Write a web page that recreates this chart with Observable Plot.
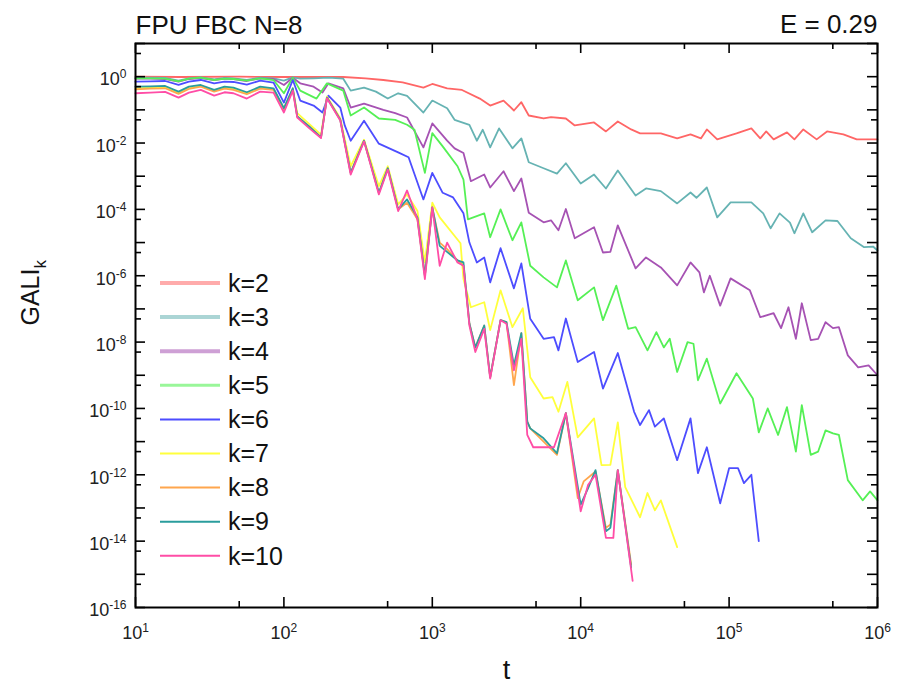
<!DOCTYPE html>
<html><head><meta charset="utf-8">
<script src="https://cdn.jsdelivr.net/npm/d3@7"></script>
<script src="https://cdn.jsdelivr.net/npm/@observablehq/plot@0.6"></script>
<style>
body{margin:0;background:#fff;}
svg{font-family:"Liberation Sans",Arial,Helvetica,sans-serif;}
</style>
</head><body><div id="chart"></div>
<script>
// Each series: [log10 t, log10 GALI_k]
const seriesNames = ["k=2","k=3","k=4","k=5","k=6","k=7","k=8","k=9","k=10"];
const seriesColors = ["#ff6666","#66b3b3","#a652b3","#55f055","#4d4dff","#ffff3c","#ffa64d","#2a9d9d","#ff4da6"];

const k2 = [[1.0,0],[1.3,-0.01],[1.7,0],[2.0,-0.01],[2.4,-0.01],[2.55,-0.05],[2.67,-0.1],[2.8,-0.17],[2.94,-0.33],[3.0,-0.22],[3.1,-0.35],[3.2,-0.4],[3.32,-0.66],[3.39,-0.87],[3.48,-0.72],[3.55,-1.02],[3.6,-0.77],[3.65,-1.17],[3.75,-1.26],[3.8,-1.22],[3.9,-1.26],[3.96,-1.47],[4.09,-1.38],[4.17,-1.65],[4.25,-1.35],[4.34,-1.59],[4.4,-1.71],[4.54,-1.71],[4.65,-1.86],[4.74,-1.74],[4.81,-1.86],[4.85,-1.59],[4.92,-1.89],[5.05,-1.71],[5.15,-1.56],[5.21,-1.86],[5.25,-1.65],[5.3,-1.89],[5.39,-1.68],[5.44,-1.89],[5.5,-1.59],[5.59,-1.89],[5.66,-1.65],[5.77,-1.74],[5.86,-1.89],[6.0,-1.89]];

const k3 = [[1.0,-0.03],[1.1,-0.03],[1.2,-0.04],[1.29,-0.12],[1.36,-0.05],[1.44,-0.02],[1.53,-0.08],[1.6,-0.04],[1.66,-0.05],[1.75,-0.1],[1.84,-0.03],[1.93,-0.05],[2.0,-0.12],[2.06,-0.02],[2.11,-0.06],[2.2,-0.05],[2.3,-0.03],[2.4,-0.06],[2.45,-0.42],[2.54,-0.33],[2.62,-0.45],[2.7,-0.66],[2.77,-0.5],[2.83,-0.58],[2.94,-1.08],[3.0,-0.72],[3.1,-0.95],[3.15,-1.3],[3.25,-1.45],[3.3,-1.93],[3.34,-1.6],[3.39,-2.13],[3.45,-1.56],[3.54,-2.16],[3.6,-1.86],[3.65,-2.58],[3.75,-2.76],[3.84,-2.92],[3.9,-2.61],[4.0,-3.22],[4.09,-2.95],[4.17,-3.37],[4.25,-2.83],[4.37,-3.58],[4.44,-3.37],[4.54,-3.45],[4.65,-3.82],[4.74,-3.49],[4.78,-3.65],[4.85,-3.34],[4.92,-4.24],[5.01,-3.79],[5.15,-3.79],[5.23,-4.12],[5.28,-4.57],[5.34,-4.12],[5.41,-4.4],[5.44,-4.72],[5.5,-4.12],[5.56,-4.69],[5.65,-4.33],[5.73,-4.35],[5.82,-4.87],[5.91,-5.14],[5.97,-5.12],[6.0,-5.24]];

const k4 = [[1.0,-0.06],[1.1,-0.06],[1.2,-0.07],[1.29,-0.15],[1.36,-0.07],[1.44,-0.04],[1.53,-0.1],[1.6,-0.06],[1.66,-0.07],[1.75,-0.13],[1.84,-0.05],[1.93,-0.07],[2.0,-0.25],[2.06,-0.03],[2.11,-0.2],[2.2,-0.3],[2.26,-0.48],[2.3,-0.2],[2.4,-0.35],[2.45,-0.93],[2.54,-0.81],[2.67,-1.0],[2.75,-1.1],[2.83,-1.23],[2.94,-2.13],[3.0,-1.41],[3.1,-1.93],[3.15,-2.16],[3.21,-2.3],[3.26,-3.15],[3.35,-2.95],[3.39,-3.34],[3.48,-2.85],[3.55,-3.45],[3.6,-3.07],[3.65,-4.1],[3.75,-4.39],[3.8,-4.33],[3.85,-4.63],[3.9,-3.99],[3.96,-4.87],[4.09,-4.54],[4.15,-5.3],[4.2,-5.28],[4.25,-4.48],[4.37,-5.78],[4.44,-5.45],[4.54,-5.75],[4.65,-6.29],[4.74,-5.6],[4.8,-5.9],[4.83,-6.5],[4.87,-6.0],[4.94,-6.9],[5.01,-6.08],[5.14,-6.44],[5.21,-7.25],[5.3,-7.13],[5.35,-7.58],[5.4,-6.95],[5.45,-7.9],[5.49,-6.83],[5.55,-7.94],[5.6,-7.9],[5.65,-7.4],[5.7,-7.58],[5.74,-7.55],[5.8,-8.4],[5.87,-8.76],[5.94,-8.7],[6.0,-9.0]];

const k5 = [[1.0,-0.05],[1.1,-0.05],[1.2,-0.06],[1.29,-0.14],[1.36,-0.06],[1.44,-0.03],[1.53,-0.1],[1.6,-0.06],[1.66,-0.07],[1.75,-0.12],[1.84,-0.05],[1.93,-0.1],[2.0,-0.5],[2.06,-0.03],[2.11,-0.42],[2.22,-0.66],[2.29,-0.2],[2.4,-0.42],[2.45,-1.17],[2.54,-0.93],[2.64,-1.26],[2.75,-1.3],[2.83,-1.45],[2.88,-1.6],[2.95,-2.9],[3.0,-1.7],[3.07,-2.1],[3.17,-2.7],[3.21,-3.1],[3.24,-4.3],[3.35,-4.12],[3.39,-4.84],[3.46,-4.0],[3.54,-4.93],[3.6,-4.39],[3.66,-5.7],[3.75,-6.05],[3.84,-6.35],[3.9,-5.54],[3.98,-6.74],[4.09,-6.35],[4.15,-7.34],[4.24,-6.3],[4.32,-7.6],[4.37,-7.55],[4.45,-8.25],[4.51,-7.7],[4.56,-8.16],[4.6,-7.9],[4.65,-8.9],[4.72,-8.0],[4.76,-8.05],[4.79,-9.15],[4.85,-8.5],[4.94,-9.85],[5.05,-8.94],[5.16,-9.7],[5.2,-10.72],[5.26,-10.0],[5.33,-10.8],[5.39,-9.96],[5.45,-11.3],[5.49,-9.9],[5.55,-11.4],[5.6,-11.3],[5.65,-10.66],[5.7,-10.75],[5.74,-10.8],[5.8,-12.16],[5.9,-12.77],[5.95,-12.5],[6.0,-12.77]];

const k6 = [[1.0,-0.15],[1.1,-0.14],[1.2,-0.13],[1.29,-0.25],[1.36,-0.15],[1.44,-0.1],[1.53,-0.2],[1.6,-0.15],[1.66,-0.16],[1.75,-0.24],[1.84,-0.12],[1.93,-0.18],[2.0,-0.78],[2.06,-0.1],[2.11,-0.72],[2.2,-0.87],[2.26,-1.08],[2.3,-0.57],[2.38,-0.93],[2.41,-1.47],[2.45,-1.93],[2.54,-1.33],[2.64,-2.02],[2.77,-2.28],[2.84,-2.43],[2.94,-3.7],[3.0,-2.9],[3.07,-3.5],[3.14,-3.64],[3.21,-4.12],[3.25,-5.0],[3.3,-5.6],[3.35,-5.45],[3.39,-6.2],[3.46,-5.17],[3.55,-6.38],[3.6,-5.63],[3.66,-7.3],[3.75,-7.9],[3.82,-7.85],[3.85,-8.25],[3.9,-7.29],[3.98,-8.6],[4.09,-8.3],[4.15,-9.4],[4.25,-8.33],[4.36,-10.1],[4.4,-10.5],[4.46,-10.05],[4.5,-10.55],[4.56,-10.3],[4.65,-11.56],[4.74,-10.3],[4.79,-11.95],[4.85,-11.17],[4.94,-12.86],[5.0,-11.8],[5.06,-11.8],[5.1,-12.25],[5.15,-12.0],[5.2,-14.0]];

const k7 = [[1.0,-0.35],[1.1,-0.33],[1.2,-0.32],[1.29,-0.5],[1.36,-0.35],[1.44,-0.28],[1.53,-0.42],[1.6,-0.33],[1.66,-0.37],[1.75,-0.5],[1.84,-0.33],[1.93,-0.38],[2.0,-0.95],[2.06,-0.35],[2.09,-1.1],[2.25,-1.75],[2.29,-0.6],[2.38,-1.25],[2.45,-2.7],[2.54,-1.9],[2.64,-3.3],[2.7,-2.7],[2.77,-3.85],[2.83,-3.55],[2.9,-4.05],[2.95,-5.6],[3.0,-3.8],[3.05,-4.24],[3.19,-5.02],[3.21,-6.1],[3.26,-6.95],[3.35,-6.8],[3.39,-7.64],[3.46,-6.44],[3.54,-7.55],[3.61,-6.98],[3.66,-9.06],[3.75,-9.7],[3.81,-9.66],[3.85,-10.1],[3.91,-9.2],[3.98,-10.87],[4.09,-10.3],[4.14,-11.71],[4.2,-11.7],[4.25,-10.42],[4.3,-12.37],[4.4,-13.28],[4.45,-12.55],[4.5,-13.07],[4.54,-12.77],[4.65,-14.18]];

const k8 = [[1.0,-0.38],[1.1,-0.36],[1.2,-0.35],[1.29,-0.52],[1.36,-0.37],[1.44,-0.3],[1.53,-0.45],[1.6,-0.36],[1.66,-0.4],[1.75,-0.53],[1.84,-0.36],[1.93,-0.4],[2.0,-1.0],[2.06,-0.38],[2.09,-1.2],[2.17,-1.5],[2.25,-1.83],[2.29,-0.63],[2.38,-1.3],[2.45,-2.9],[2.54,-1.93],[2.64,-3.5],[2.7,-2.76],[2.77,-4.0],[2.83,-3.8],[2.9,-4.3],[2.95,-6.0],[3.0,-3.94],[3.05,-5.0],[3.1,-5.2],[3.17,-5.54],[3.21,-5.7],[3.25,-7.44],[3.29,-8.16],[3.35,-7.5],[3.39,-9.06],[3.46,-7.34],[3.5,-7.4],[3.55,-9.3],[3.6,-7.73],[3.64,-10.4],[3.66,-10.6],[3.75,-11.0],[3.84,-11.4],[3.9,-10.14],[3.98,-12.7],[4.02,-12.2],[4.1,-11.9],[4.17,-13.6],[4.2,-13.5],[4.25,-11.86],[4.34,-14.7]];

const k9 = [[1.0,-0.3],[1.1,-0.29],[1.2,-0.28],[1.29,-0.45],[1.36,-0.3],[1.44,-0.25],[1.53,-0.4],[1.6,-0.3],[1.66,-0.33],[1.75,-0.47],[1.84,-0.3],[1.93,-0.35],[2.0,-0.95],[2.06,-0.35],[2.09,-1.2],[2.17,-1.5],[2.25,-1.83],[2.29,-0.63],[2.38,-1.3],[2.45,-2.9],[2.54,-1.93],[2.64,-3.5],[2.7,-2.76],[2.77,-4.0],[2.83,-3.7],[2.9,-4.24],[2.95,-6.0],[3.0,-3.94],[3.05,-5.1],[3.17,-5.54],[3.21,-5.6],[3.25,-7.44],[3.29,-8.16],[3.35,-7.5],[3.39,-9.06],[3.46,-7.34],[3.5,-7.4],[3.55,-8.7],[3.6,-7.73],[3.64,-10.4],[3.66,-10.6],[3.75,-10.9],[3.84,-11.35],[3.9,-10.14],[4.0,-12.9],[4.05,-12.4],[4.1,-11.86],[4.17,-13.7],[4.2,-13.6],[4.25,-11.86],[4.34,-14.8]];

const k10 = [[1.0,-0.5],[1.1,-0.48],[1.2,-0.46],[1.29,-0.63],[1.36,-0.48],[1.44,-0.4],[1.53,-0.57],[1.6,-0.47],[1.66,-0.5],[1.75,-0.66],[1.84,-0.45],[1.93,-0.48],[2.0,-1.08],[2.06,-0.42],[2.09,-1.23],[2.17,-1.55],[2.25,-1.85],[2.29,-0.65],[2.38,-1.32],[2.45,-2.95],[2.54,-1.95],[2.64,-3.55],[2.7,-2.8],[2.77,-4.05],[2.83,-3.43],[2.9,-4.3],[2.95,-6.1],[3.0,-3.94],[3.05,-5.7],[3.1,-5.0],[3.17,-5.6],[3.21,-5.7],[3.25,-7.5],[3.29,-8.3],[3.35,-7.6],[3.39,-9.1],[3.46,-7.34],[3.5,-7.45],[3.55,-8.85],[3.6,-7.9],[3.64,-10.8],[3.68,-11.17],[3.82,-11.17],[3.9,-10.14],[4.0,-13.1],[4.05,-12.3],[4.1,-12.0],[4.17,-13.9],[4.22,-13.9],[4.25,-11.86],[4.35,-15.2]];

const allSeries = [k2,k3,k4,k5,k6,k7,k8,k9,k10];

// Axis ticks and labels (exponents of ten)
const xMajorTicks = [1e1,1e2,1e3,1e4,1e5,1e6];
const xMinorTicks = [5e1,5e2,5e3,5e4,5e5];
const xLabelExps = [1,2,3,4,5,6];
const yMajorTicks = [1e-16,1e-15,1e-14,1e-13,1e-12,1e-11,1e-10,1e-9,1e-8,1e-7,1e-6,1e-5,1e-4,1e-3,1e-2,1e-1,1e0,1e1];
const yMinorTicks = [5e-16,5e-15,5e-14,5e-13,5e-12,5e-11,5e-10,5e-9,5e-8,5e-7,5e-6,5e-5,5e-4,5e-3,5e-2,5e-1,5e0];
const yLabelExps = [0,-2,-4,-6,-8,-10,-12,-14,-16];

const titleLeft = "FPU FBC N=8";
const titleRight = "E = 0.29";
const xLabel = "t";
const yLabelMain = "GALI";
const yLabelSub = "k";

const data = [];
allSeries.forEach((pts, i) => pts.forEach(([lt, lv]) => data.push({k: seriesNames[i], t: 10 ** lt, g: 10 ** lv})));

const W = 908, H = 694, mL = 135, mR = 31, mT = 43, mB = 87;
const fw = W - mL - mR, fh = H - mT - mB;

// distinct near-black fills let the label groups be found afterwards
const FX = "#202021", FY = "#212122", FL = "#131314";

const chart = Plot.plot({
  width: W, height: H,
  marginLeft: mL, marginRight: mR, marginTop: mT, marginBottom: mB,
  x: {type: "log", domain: [1e1, 1e6], label: null, axis: null},
  y: {type: "log", domain: [1e-16, 1e1], label: null, axis: null},
  color: {domain: seriesNames, range: seriesColors},
  style: {background: "#fff", color: "#000", fontFamily: "'Liberation Sans', Arial, sans-serif"},
  marks: [
    Plot.line(data, {x: "t", y: "g", z: "k", stroke: "k", strokeWidth: 1.8, strokeLinejoin: "round"}),
    // inward ticks
    Plot.tickX(xMajorTicks, {x: d => d, insetTop: fh - 10, stroke: "#000", strokeWidth: 1.6}),
    Plot.tickX(xMinorTicks, {x: d => d, insetTop: fh - 6, stroke: "#000", strokeWidth: 1.6}),
    Plot.tickX(xMajorTicks, {x: d => d, insetBottom: fh - 10, stroke: "#000", strokeWidth: 1.6}),
    Plot.tickX(xMinorTicks, {x: d => d, insetBottom: fh - 6, stroke: "#000", strokeWidth: 1.6}),
    Plot.tickY(yMajorTicks, {y: d => d, insetRight: fw - 10, stroke: "#000", strokeWidth: 1.6}),
    Plot.tickY(yMinorTicks, {y: d => d, insetRight: fw - 6, stroke: "#000", strokeWidth: 1.6}),
    Plot.tickY(yMajorTicks, {y: d => d, insetLeft: fw - 10, stroke: "#000", strokeWidth: 1.6}),
    Plot.tickY(yMinorTicks, {y: d => d, insetLeft: fw - 6, stroke: "#000", strokeWidth: 1.6}),
    Plot.frame({stroke: "#000", strokeWidth: 2}),
    // tick labels
    Plot.text(xLabelExps, {x: d => 10 ** d, text: d => String(d), frameAnchor: "bottom", dy: 31, fontSize: 18, fill: FX}),
    Plot.text(yLabelExps, {y: d => 10 ** d, text: d => String(d), frameAnchor: "left", dx: -9, dy: 3, textAnchor: "end", fontSize: 18, fill: FY}),
    // titles
    Plot.text([titleLeft], {frameAnchor: "top-left", textAnchor: "start", lineAnchor: "bottom", dy: -10, fontSize: 26, fill: "#111"}),
    Plot.text([titleRight], {frameAnchor: "top-right", textAnchor: "end", lineAnchor: "bottom", dy: -11, fontSize: 26, fill: "#111"}),
    Plot.text([xLabel], {frameAnchor: "bottom", dy: 71, fontSize: 27, fill: "#111"}),
    Plot.text([yLabelMain], {frameAnchor: "left", dx: -105, rotate: -90, fontSize: 25, fill: FL})
  ]
});

const ns = "http://www.w3.org/2000/svg";
function textsWithFill(color) {
  const out = new Set();
  chart.querySelectorAll("text").forEach(t => {
    let el = t, f = null;
    while (el && el !== chart) {
      const a = el.getAttribute && el.getAttribute("fill");
      if (a) { f = a; break; }
      el = el.parentNode;
    }
    if (f && f.toLowerCase() === color) out.add(t);
  });
  return [...out];
}
function makeSup(color) {
  textsWithFill(color).forEach(t => {
    const e = t.textContent;
    t.textContent = "";
    const a = document.createElementNS(ns, "tspan"); a.textContent = "10"; t.appendChild(a);
    const b = document.createElementNS(ns, "tspan"); b.textContent = e; b.setAttribute("dy", "-7"); b.setAttribute("font-size", "12"); t.appendChild(b);
  });
}
makeSup(FX);
makeSup(FY);
textsWithFill(FL).forEach(t => {
  const s = document.createElementNS(ns, "tspan"); s.textContent = yLabelSub; s.setAttribute("dy", "7"); s.setAttribute("font-size", "17"); t.appendChild(s);
});

// legend
const leg = d3.select(chart).append("g").attr("aria-label", "legend").attr("text-anchor", "start");
const legWidths = [4, 4, 4, 3, 2, 2, 2, 2, 2];
const legOpac = [0.55, 0.55, 0.55, 0.6, 1, 1, 1, 1, 1];
seriesNames.forEach((name, i) => {
  const y = 283 + 34.1 * i;
  leg.append("line").attr("x1", 160).attr("x2", 220).attr("y1", y).attr("y2", y)
    .attr("stroke", seriesColors[i]).attr("stroke-width", legWidths[i]).attr("stroke-opacity", legOpac[i]);
  leg.append("text").attr("x", 228).attr("y", y).attr("dy", "0.35em").attr("text-anchor", "start").attr("font-size", 25).attr("fill", "#111").text(name);
});

document.getElementById("chart").appendChild(chart);
</script>
</body></html>
